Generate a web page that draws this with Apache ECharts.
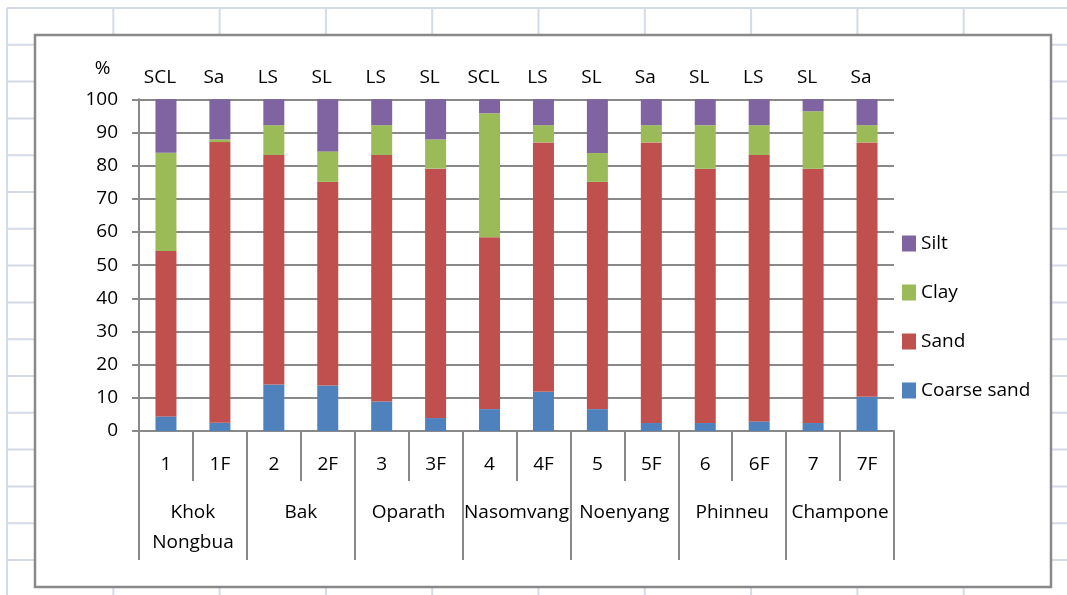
<!DOCTYPE html>
<html>
<head>
<meta charset="utf-8">
<title>Soil texture</title>
<script src="https://cdn.jsdelivr.net/npm/echarts@6/dist/echarts.min.js"></script>
<style>
    html, body { margin: 0; padding: 0; background: #fff; }
    #chart { width: 1067px; height: 595px; }
</style>
</head>
<body>
<div id="chart"></div>
<script>
var samples = ['1', '1F', '2', '2F', '3', '3F', '4', '4F', '5', '5F', '6', '6F', '7', '7F'];
var villages = ['Khok\nNongbua', 'Bak', 'Oparath', 'Nasomvang', 'Noenyang', 'Phinneu', 'Champone'];
var textures = ['SCL', 'Sa', 'LS', 'SL', 'LS', 'SL', 'SCL', 'LS', 'SL', 'Sa', 'SL', 'LS', 'SL', 'Sa'];

var coarseSand = [4.4, 2.5, 14.0, 13.7, 8.9, 3.9, 6.6, 11.8, 6.6, 2.4, 2.4, 2.9, 2.4, 10.3];
var sand = [49.9, 84.6, 69.2, 61.4, 74.3, 75.2, 51.8, 75.2, 68.5, 84.6, 76.7, 80.3, 76.7, 76.7];
var clay = [29.6, 0.8, 9.0, 9.2, 9.0, 8.8, 37.4, 5.2, 8.7, 5.2, 13.1, 9.0, 17.3, 5.2];
var silt = [16.1, 12.1, 7.8, 15.7, 7.8, 12.1, 4.2, 7.8, 16.2, 7.8, 7.8, 7.8, 3.6, 7.8];

var yTicks = [0, 10, 20, 30, 40, 50, 60, 70, 80, 90, 100];

var font = 'Open Sans';
var gridGrey = '#898989';

// excel sheet lines behind the chart box
var sheet = [];
for (var i = 0; i < 11; i++) {
    sheet.push({
        type: 'line', z: -100,
        shape: {x1: 7 + i * 106.3, y1: 8, x2: 7 + i * 106.3, y2: 595},
        style: {stroke: '#d3dbe8', lineWidth: 2}
    });
}
for (var j = 0; j < 17; j++) {
    sheet.push({
        type: 'line', z: -100,
        shape: {x1: 7, y1: 8 + j * 36.8, x2: 1067, y2: 8 + j * 36.8},
        style: {stroke: '#d3dbe8', lineWidth: 2}
    });
}
sheet.push({
    type: 'rect', z: -99,
    shape: {x: 35, y: 35, width: 1016, height: 552},
    style: {fill: '#fff', stroke: gridGrey, lineWidth: 2.5}
});

var chart = echarts.init(document.getElementById('chart'));
var option = {
    animation: false,
    textStyle: {fontFamily: font},
    graphic: sheet,
    grid: {
        left: 139,
        right: 173,
        top: 99.3,
        bottom: 164
    },
    legend: {
        data: ['Silt', 'Clay', 'Sand', 'Coarse sand'],
        orient: 'vertical',
        left: 902,
        top: 234,
        padding: 0,
        itemWidth: 14,
        itemHeight: 16,
        itemGap: 30,
        icon: 'rect',
        textStyle: {fontFamily: font, fontSize: 19, color: '#000', lineHeight: 16}
    },
    xAxis: [{
        type: 'category',
        data: samples,
        position: 'bottom',
        offset: 0,
        axisLine: {lineStyle: {color: gridGrey, width: 2}},
        axisTick: {show: true, interval: 0, length: 50, lineStyle: {color: gridGrey, width: 2}},
        axisLabel: {interval: 0, margin: 24, fontSize: 19, color: '#000', fontFamily: font}
    }, {
        type: 'category',
        data: villages,
        position: 'bottom',
        offset: 0,
        axisLine: {show: false},
        axisTick: {show: true, interval: 0, length: 129, lineStyle: {color: gridGrey, width: 2}},
        axisLabel: {interval: 0, margin: 67, fontSize: 19, lineHeight: 30, color: '#000', fontFamily: font}
    }],
    yAxis: {
        type: 'value',
        min: yTicks[0],
        max: yTicks[yTicks.length - 1],
        interval: 10,
        name: '%',
        nameLocation: 'end',
        nameGap: 21,
        nameTextStyle: {fontSize: 19, color: '#000', fontFamily: font, align: 'center', padding: [0, 73, 0, 0]},
        axisLine: {show: true, lineStyle: {color: gridGrey, width: 2}},
        axisTick: {show: true, length: 7, lineStyle: {color: gridGrey, width: 2}},
        axisLabel: {margin: 21, fontSize: 19, color: '#000', fontFamily: font},
        splitLine: {lineStyle: {color: gridGrey, width: 2}}
    },
    series: [{
        name: 'Coarse sand',
        type: 'bar',
        stack: 'total',
        barWidth: 21,
        itemStyle: {color: '#4f81bd'},
        data: coarseSand
    }, {
        name: 'Sand',
        type: 'bar',
        stack: 'total',
        barWidth: 21,
        itemStyle: {color: '#c0504d'},
        data: sand
    }, {
        name: 'Clay',
        type: 'bar',
        stack: 'total',
        barWidth: 21,
        itemStyle: {color: '#9bbb59'},
        data: clay
    }, {
        name: 'Silt',
        type: 'bar',
        stack: 'total',
        barWidth: 21,
        itemStyle: {color: '#8064a2'},
        label: {
            show: true,
            position: 'top',
            distance: 12,
            offset: [-6, 0],
            fontSize: 19,
            color: '#000',
            fontFamily: font,
            formatter: function (p) {
                return textures[p.dataIndex];
            }
        },
        data: silt
    }]
};
chart.setOption(option);
</script>
</body>
</html>
